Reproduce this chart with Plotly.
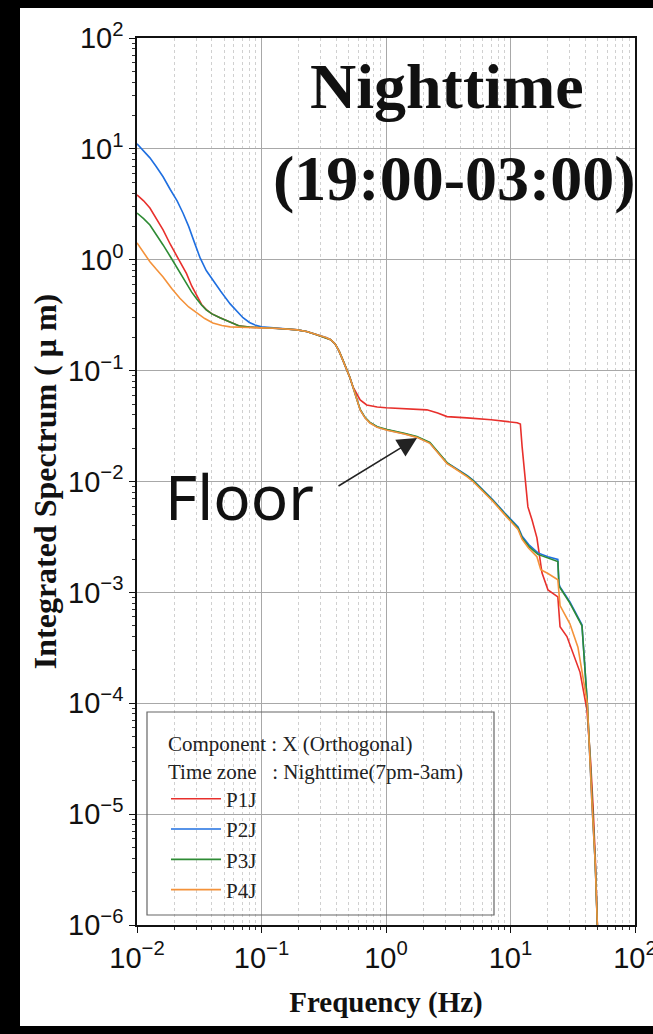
import plotly.graph_objects as go

# ---------------- data ----------------
mid_f = [0.13, 0.16, 0.193, 0.23, 0.27, 0.31, 0.33, 0.36, 0.39, 0.42, 0.45, 0.48, 0.51, 0.543]
mid_v = [0.241, 0.237, 0.233, 0.225, 0.213, 0.203, 0.199, 0.19, 0.174, 0.15, 0.125, 0.105, 0.088, 0.0713]

p1_f = [0.01, 0.0113, 0.0127, 0.0143, 0.0162, 0.0185, 0.02, 0.0221, 0.025, 0.0275, 0.0303, 0.0315,
        0.033, 0.036, 0.04, 0.0464, 0.055, 0.067, 0.08, 0.1] + mid_f + \
       [0.58, 0.62, 0.7, 0.85, 1.0, 1.5, 2.13, 2.6, 3.09, 4.47, 7.0, 11.3, 12.0, 12.4, 13.1, 13.8,
        14.9, 16.3, 17.9, 20.0, 24.0, 25.0, 28.4, 36.2, 41.1, 44.0, 46.0, 48.0, 50.0]
p1_v = [3.84, 3.4, 2.93, 2.35, 1.86, 1.38, 1.17, 0.955, 0.75, 0.58, 0.47, 0.43,
        0.395, 0.355, 0.325, 0.30, 0.275, 0.252, 0.247, 0.245] + mid_v + \
       [0.062, 0.0545, 0.049, 0.047, 0.0462, 0.0452, 0.0443, 0.0415, 0.0385, 0.0375, 0.036, 0.0339,
        0.033, 0.0205, 0.0103, 0.0059, 0.0045, 0.0031, 0.0015, 0.00105, 0.00091, 0.00049, 0.0004,
        0.00019, 8.7e-5, 3e-5, 1.2e-5, 4e-6, 9e-7]

p2_f = [0.01, 0.0113, 0.0127, 0.0143, 0.0162, 0.0185, 0.021, 0.0234, 0.026, 0.029, 0.032, 0.036,
        0.041, 0.047, 0.056, 0.063, 0.071, 0.08, 0.09, 0.1] + mid_f + \
       [0.58, 0.62, 0.68, 0.743, 0.85, 1.02, 1.4, 1.77, 2.25, 2.4, 2.84, 3.09, 3.5, 3.93, 4.5, 5.0,
        5.69, 7.24, 9.0, 11.5, 12.4, 14.0, 16.6, 20.0, 24.0, 24.5, 25.0, 30.0, 37.5, 41.4, 45.2,
        48.0, 50.0]
p2_v = [11.1, 9.6, 8.3, 6.9, 5.6, 4.3, 3.4, 2.64, 2.0, 1.42, 1.05, 0.80,
        0.64, 0.52, 0.40, 0.345, 0.30, 0.272, 0.256, 0.248] + mid_v + \
       [0.056, 0.0444, 0.0375, 0.0339, 0.031, 0.0292, 0.027, 0.0252, 0.0223, 0.0205, 0.0167, 0.0147,
        0.0135, 0.0125, 0.0113, 0.0103, 0.0089, 0.0068, 0.0052, 0.0039, 0.0032, 0.0027, 0.00227,
        0.0021, 0.00198, 0.0012, 0.00112, 0.00082, 0.00051, 1e-4, 1.2e-5, 3.5e-6, 9e-7]

p3_f = [0.01, 0.0113, 0.0127, 0.0143, 0.0162, 0.0185, 0.02, 0.0221, 0.025, 0.0275, 0.0303, 0.0315,
        0.033, 0.036, 0.04, 0.0464, 0.055, 0.067, 0.08, 0.1] + mid_f + \
       [0.58, 0.62, 0.68, 0.743, 0.85, 1.02, 1.4, 1.77, 2.25, 2.4, 2.84, 3.09, 3.5, 3.93, 4.5, 5.0,
        5.69, 7.24, 9.0, 11.5, 12.4, 14.0, 16.6, 20.0, 24.0, 24.5, 25.0, 30.0, 37.5, 41.4, 45.2,
        48.0, 50.0]
p3_v = [2.64, 2.35, 2.06, 1.7, 1.36, 1.07, 0.92, 0.76, 0.61, 0.51, 0.44, 0.415,
        0.39, 0.353, 0.325, 0.30, 0.275, 0.252, 0.247, 0.245] + mid_v + \
       [0.056, 0.0446, 0.0377, 0.0341, 0.0312, 0.0294, 0.0272, 0.0254, 0.0225, 0.0207, 0.0168, 0.0148,
        0.0134, 0.0124, 0.0112, 0.0102, 0.0088, 0.0067, 0.0051, 0.0038, 0.0031, 0.0026, 0.0022,
        0.00205, 0.0019, 0.00115, 0.0011, 0.0008, 0.0005, 1e-4, 1.2e-5, 3.5e-6, 9e-7]

p4_f = [0.01, 0.0113, 0.0127, 0.0143, 0.0162, 0.019, 0.0221, 0.026, 0.0303, 0.035, 0.0407, 0.048,
        0.056, 0.07, 0.1] + mid_f + \
       [0.58, 0.62, 0.68, 0.743, 0.85, 1.02, 1.4, 1.77, 2.25, 2.4, 2.84, 3.09, 3.5, 3.93, 4.5, 5.0,
        5.69, 7.24, 9.0, 11.5, 12.4, 14.0, 16.3, 17.5, 20.0, 24.0, 25.0, 30.0, 34.8, 41.4, 45.2,
        48.0, 50.0]
p4_v = [1.42, 1.17, 0.96, 0.82, 0.70, 0.55, 0.45, 0.375, 0.33, 0.295, 0.269, 0.255,
        0.248, 0.245, 0.243] + mid_v + \
       [0.0555, 0.0442, 0.0373, 0.0337, 0.0308, 0.029, 0.0268, 0.025, 0.0221, 0.0203, 0.0165, 0.0145,
        0.0133, 0.0122, 0.011, 0.01, 0.0087, 0.0066, 0.005, 0.0037, 0.0030, 0.0025, 0.0021,
        0.0016, 0.00148, 0.0013, 0.00076, 0.00052, 0.00032, 1e-4, 1.2e-5, 3.5e-6, 9e-7]

series_names = ["P1J", "P2J", "P3J", "P4J"]
series_colors = ["#e8302c", "#1f6fe0", "#2e8b34", "#f4923a"]

x_tickvals = [0.01, 0.1, 1, 10, 100]
x_ticktext = ["10<sup>−2</sup>", "10<sup>−1</sup>", "10<sup>0</sup>", "10<sup>1</sup>", "10<sup>2</sup>"]
y_tickvals = [1e-6, 1e-5, 1e-4, 1e-3, 1e-2, 1e-1, 1, 10, 100]
y_ticktext = ["10<sup>−6</sup>", "10<sup>−5</sup>", "10<sup>−4</sup>", "10<sup>−3</sup>", "10<sup>−2</sup>",
              "10<sup>−1</sup>", "10<sup>0</sup>", "10<sup>1</sup>", "10<sup>2</sup>"]

# ---------------- figure ----------------
W, H = 653, 1034
L, R, T, B = 137, 18, 38, 109
pw, ph = W - L - R, H - T - B


def px(xp):
    return (xp - L) / pw


def py(yp):
    return (H - B - yp) / ph


fig = go.Figure()
for f, v, name, col in zip([p1_f, p2_f, p3_f, p4_f], [p1_v, p2_v, p3_v, p4_v],
                           series_names, series_colors):
    fig.add_trace(go.Scatter(x=f, y=v, mode="lines", name=name,
                             line=dict(color=col, width=1.6)))

serif = "Liberation Serif, Times New Roman, serif"
sans_tick = "Liberation Sans, Arial, sans-serif"

fig.update_layout(
    width=W, height=H,
    margin=dict(l=L, r=R, t=T, b=B, autoexpand=False),
    paper_bgcolor="black",
    plot_bgcolor="white",
    showlegend=True,
    legend=dict(
        x=px(166), y=py(724), xanchor="left", yanchor="top",
        bgcolor="rgba(0,0,0,0)", borderwidth=0,
        font=dict(family=serif, size=21, color="#222"),
        title=dict(text="Component : X (Orthogonal)<br>Time zone\u00a0\u00a0\u00a0: Nighttime(7pm-3am)",
                   font=dict(family=serif, size=21, color="#222"), side="top"),
        itemwidth=50, tracegroupgap=0,
    ),
    xaxis=dict(
        type="log", range=[-2, 2],
        tickvals=x_tickvals, ticktext=x_ticktext, ticklabeloverflow="allow",
        tickfont=dict(family=sans_tick, size=29, color="#111"),
        ticks="outside", ticklen=6, tickwidth=1.2, tickcolor="#111",
        showline=True, linecolor="#111", linewidth=1.5, mirror=True,
        showgrid=True, gridcolor="#a8a8a8", gridwidth=1,
        minor=dict(dtick="D1", ticks="outside", ticklen=3, tickcolor="#333",
                   showgrid=True, gridcolor="#d0d0d0", griddash="dot", gridwidth=1),
        title=dict(text="Frequency (Hz)", font=dict(family=serif, size=29, color="#111", weight="bold"),
                   standoff=19),
        zeroline=False,
    ),
    yaxis=dict(
        type="log", range=[-6, 2],
        tickvals=y_tickvals, ticktext=y_ticktext, ticklabeloverflow="allow",
        tickfont=dict(family=sans_tick, size=29, color="#111"),
        ticks="outside", ticklen=6, tickwidth=1.2, tickcolor="#111",
        showline=True, linecolor="#111", linewidth=1.5, mirror=True,
        showgrid=True, gridcolor="#a8a8a8", gridwidth=1,
        minor=dict(dtick="D1", ticks="outside", ticklen=3, tickcolor="#333", showgrid=False),
        title=dict(text="Integrated Spectrum ( \u03bc m)",
                   font=dict(family=serif, size=32, color="#111", weight="bold"), standoff=2),
        zeroline=False,
    ),
)

# white page behind the chart, black frame around it
fig.add_shape(type="rect", xref="paper", yref="paper", layer="below",
              x0=px(20), x1=px(653), y0=py(1026), y1=py(8),
              fillcolor="white", line=dict(width=0))
# legend box
fig.add_shape(type="rect", xref="paper", yref="paper", layer="above",
              x0=px(147), x1=px(494), y0=py(915), y1=py(712),
              fillcolor="rgba(0,0,0,0)", line=dict(color="#666", width=1.2))

fig.add_annotation(text="Nighttime", xref="paper", yref="paper", x=px(447), y=py(86),
                   showarrow=False, xanchor="center", yanchor="middle",
                   font=dict(family=serif, size=64, color="#111", weight="bold"))
fig.add_annotation(text="(19:00-03:00)", xref="paper", yref="paper", x=px(454), y=py(178),
                   showarrow=False, xanchor="center", yanchor="middle",
                   font=dict(family=serif, size=64, color="#111", weight="bold"))
fig.add_annotation(text="Floor", xref="paper", yref="paper", x=px(239), y=py(496),
                   showarrow=False, xanchor="center", yanchor="middle",
                   font=dict(family="Noto Sans, Open Sans, sans-serif", size=62, color="#111"))
# arrow pointing at the floor level (log axes -> log10 coordinates)
fig.add_annotation(text="", x=0.249, y=-1.607, xref="x", yref="y",
                   showarrow=True, ax=-80, ay=49, axref="pixel", ayref="pixel",
                   arrowhead=2, arrowsize=2.6, arrowwidth=1.5, arrowcolor="#222", standoff=0)

fig.write_html("out.html", config={"displayModeBar": False},
               post_script="document.body.style.margin='0';document.body.style.background='black';")
